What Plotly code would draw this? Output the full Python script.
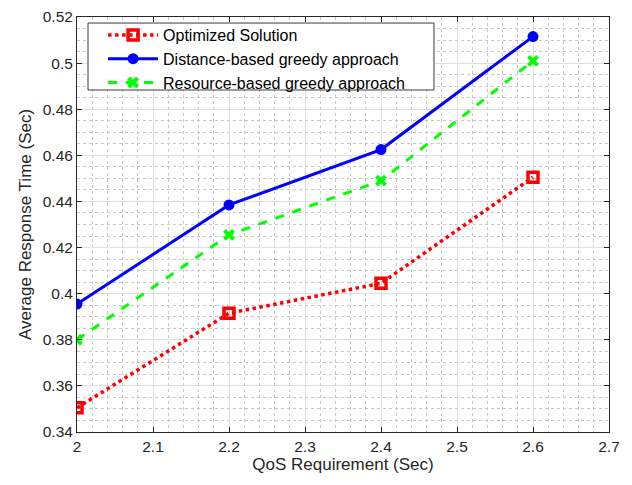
import plotly.graph_objects as go

qos = [2.0, 2.2, 2.4, 2.6]
optimized = [0.3505, 0.3915, 0.4045, 0.4505]
distance_greedy = [0.3955, 0.4385, 0.4625, 0.5115]
resource_greedy = [0.3800, 0.4255, 0.4490, 0.5010]

x_ticks = [2, 2.1, 2.2, 2.3, 2.4, 2.5, 2.6, 2.7]
x_tick_text = ["2", "2.1", "2.2", "2.3", "2.4", "2.5", "2.6", "2.7"]
y_ticks = [0.34, 0.36, 0.38, 0.40, 0.42, 0.44, 0.46, 0.48, 0.50, 0.52]
y_tick_text = ["0.34", "0.36", "0.38", "0.4", "0.42", "0.44", "0.46", "0.48", "0.5", "0.52"]

FONT = "Liberation Sans, Arial, sans-serif"

fig = go.Figure()
fig.add_trace(go.Scatter(
    x=qos, y=optimized, name="Optimized Solution", mode="lines+markers",
    line=dict(color="#ff0000", width=3.5, dash="dot"),
    marker=dict(symbol="square-open", size=10, color="#ff0000", line=dict(width=3.5, color="#ff0000"))))
fig.add_trace(go.Scatter(
    x=qos, y=distance_greedy, name="Distance-based greedy approach", mode="lines+markers",
    line=dict(color="#0000ff", width=3),
    marker=dict(symbol="circle", size=11, color="#0000ff")))
fig.add_trace(go.Scatter(
    x=qos, y=resource_greedy, name="Resource-based greedy approach", mode="lines+markers",
    line=dict(color="#00ff00", width=3, dash="dash"),
    marker=dict(symbol="x-thin-open", size=9, color="#00ff00", line=dict(width=4, color="#00ff00"))))

axis_common = dict(
    showline=True, linecolor="#262626", linewidth=1, mirror="ticks",
    ticks="inside", ticklen=5, tickcolor="#262626",
    showgrid=True, gridcolor="#dfdfdf", gridwidth=1,
    zeroline=False, automargin=False, ticklabeloverflow="allow",
    tickfont=dict(family=FONT, size=15.5, color="#262626"),
)

fig.update_xaxes(
    range=[2, 2.7], tickvals=x_ticks, ticktext=x_tick_text,
    title=dict(text="QoS Requirement (Sec)", font=dict(family=FONT, size=17, color="#262626"), standoff=4),
    minor=dict(dtick=0.02, showgrid=True, gridcolor="#c8c8c8", griddash="dot", gridwidth=1, ticks=""),
    **axis_common)
fig.update_yaxes(
    range=[0.34, 0.52], tickvals=y_ticks, ticktext=y_tick_text,
    title=dict(text="Average Response Time (Sec)", font=dict(family=FONT, size=17, color="#262626"), standoff=6),
    minor=dict(dtick=0.005, showgrid=True, gridcolor="#c8c8c8", griddash="dot", gridwidth=1, ticks=""),
    **axis_common)

# legend frame (MATLAB-style box)
fig.add_shape(type="rect", xref="paper", yref="paper",
              x0=0.0207, x1=0.671, y0=0.8241, y1=0.9855,
              fillcolor="white", line=dict(color="#3a3a3a", width=1), layer="above")

fig.update_layout(
    width=624, height=477,
    margin=dict(l=69, r=23, t=9, b=53),
    paper_bgcolor="white", plot_bgcolor="white",
    font=dict(family=FONT, size=16, color="#262626"),
    legend=dict(x=0.049, y=0.9976, xanchor="left", yanchor="top",
                bgcolor="rgba(0,0,0,0)", borderwidth=0,
                font=dict(family=FONT, size=16, color="#000000"), tracegroupgap=0, itemwidth=50),
    showlegend=True,
)

fig.write_html("out.html")
